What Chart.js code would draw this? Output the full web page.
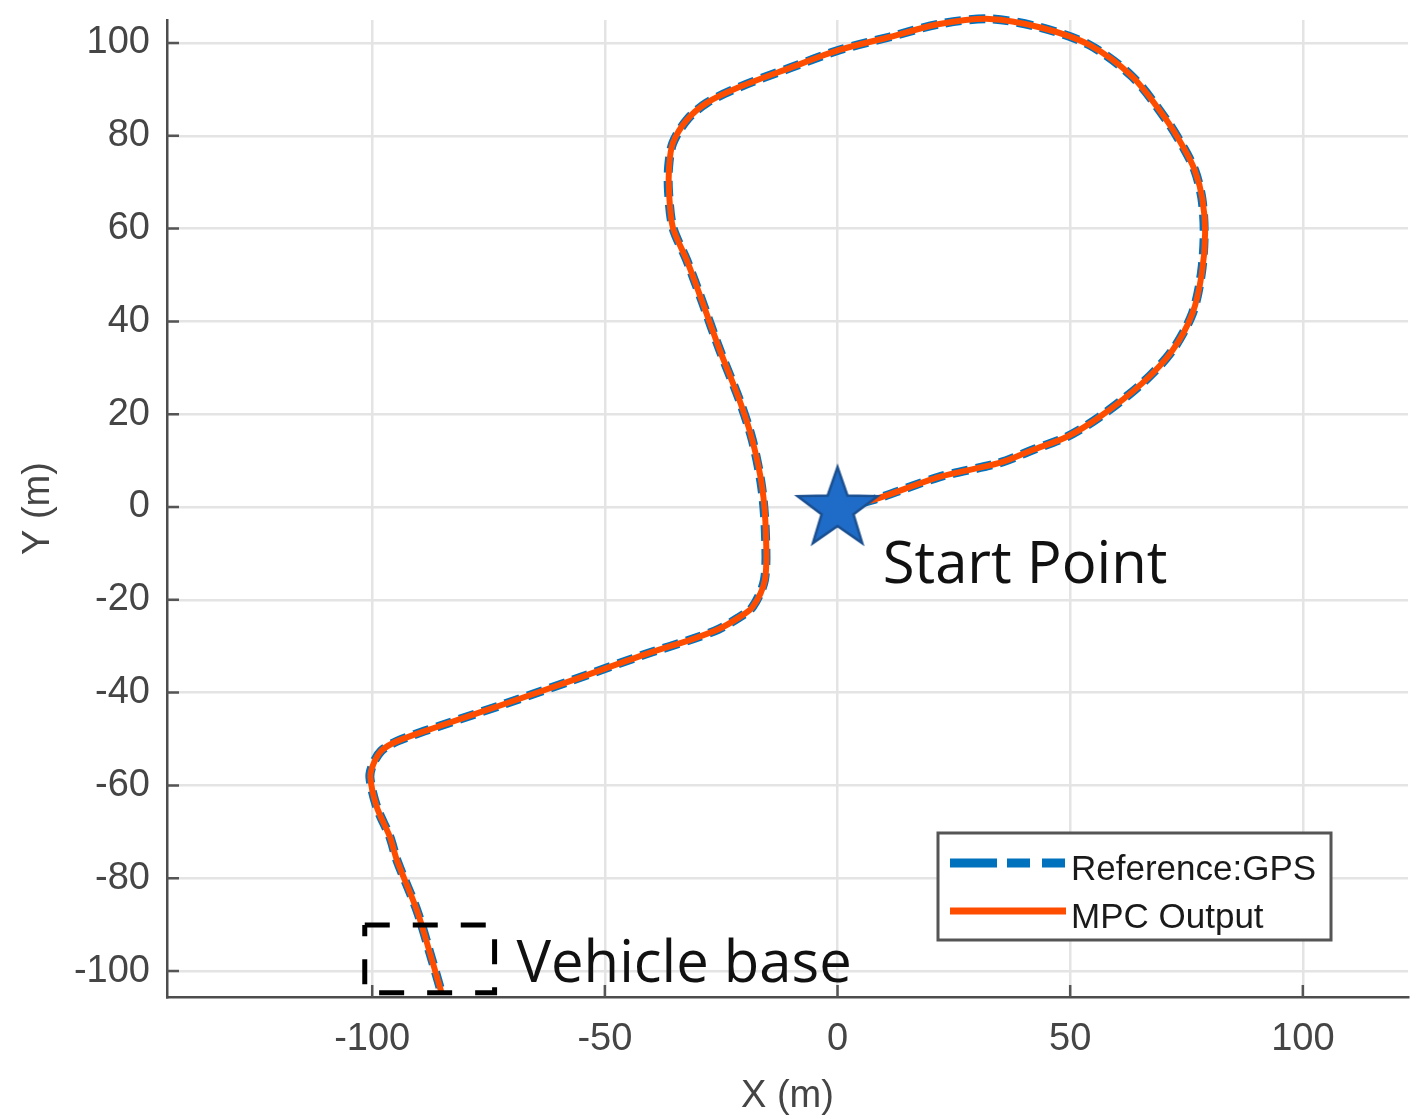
<!DOCTYPE html>
<html>
<head>
<meta charset="utf-8">
<script src="https://cdn.jsdelivr.net/npm/chart.js@4.4.1/dist/chart.umd.min.js"></script>
<style>
  html, body { margin: 0; padding: 0; background: #fff; }
  canvas { display: block; }
</style>
</head>
<body>
<canvas id="pathChart" width="1425" height="1119"></canvas>
<script>
// reference path (GPS), metres
const refX = [0, 7.5, 21.9, 34.8, 41.9, 49.2, 56.3, 65.5, 72.0, 76.3, 78.2, 78.8, 78.3, 76.8, 74.5, 70.7, 63.4, 54.1, 43.4, 32.7, 21.9, 11.2, 0.4, -10.3, -21.1, -28.1, -32.4, -35.4, -36.3, -36.3, -35.4, -32.4, -29.2, -25.3, -21.1, -18.3, -16.3, -15.5, -15.7, -18.3, -21.5, -25.5, -31.0, -41.5, -56.9, -71.1, -85.5, -94.5, -98.0, -99.8, -100.5, -99.0, -96.2, -94.7, -90.4, -87.6, -85.1];
const refY = [0, 1.5, 6.5, 9.5, 12.3, 15.1, 19.4, 26.7, 33.8, 41.8, 50.4, 59.1, 66.5, 72.5, 77.2, 83.4, 92.7, 99.6, 103.4, 105.2, 104.1, 101.3, 98.5, 94.6, 90.5, 87.1, 83.4, 78.4, 73.3, 67.7, 60.3, 53.2, 44.6, 33.8, 23.1, 14.4, 4.3, -5.6, -15.7, -21.6, -24.0, -26.3, -28.4, -31.8, -37.3, -42.3, -47.2, -50.4, -52.5, -55.3, -58.2, -64.7, -71.1, -76.1, -86.9, -96.1, -104.7];

// MPC output follows the reference almost exactly
const mpcX = [0, 7.5, 21.9, 34.8, 41.9, 49.2, 56.3, 65.5, 72.0, 76.3, 78.3, 79.0, 78.4, 76.8, 74.5, 70.7, 63.4, 54.1, 43.4, 32.7, 21.9, 11.2, 0.4, -10.3, -21.1, -28.1, -32.4, -35.4, -36.2, -36.2, -35.4, -32.4, -29.2, -25.3, -21.1, -18.3, -16.2, -15.4, -15.6, -18.3, -21.5, -25.5, -31.0, -41.5, -56.9, -71.1, -85.5, -94.5, -98.0, -99.7, -100.4, -99.0, -96.2, -94.7, -90.4, -87.6, -85.1];
const mpcY = [0, 1.5, 6.5, 9.5, 12.3, 15.1, 19.4, 26.7, 33.8, 41.8, 50.4, 59.1, 66.5, 72.5, 77.2, 83.4, 92.7, 99.6, 103.4, 105.2, 104.1, 101.3, 98.5, 94.6, 90.5, 87.1, 83.4, 78.4, 73.3, 67.7, 60.3, 53.2, 44.6, 33.8, 23.1, 14.4, 4.3, -5.6, -15.7, -21.6, -24.0, -26.3, -28.4, -31.8, -37.3, -42.3, -47.2, -50.4, -52.5, -55.3, -58.2, -64.7, -71.1, -76.1, -86.9, -96.1, -104.7];

const startPoint = { x: 0, y: 0 };
// vehicle base rectangle corners
const baseX = [-101.6, -73.7, -73.7, -101.6, -101.6];
const baseY = [-90.1, -90.1, -104.7, -104.7, -90.1];

const seriesNames = ["Reference:GPS", "MPC Output"];
const xTicks = [-100, -50, 0, 50, 100];
const yTicks = [-100, -80, -60, -40, -20, 0, 20, 40, 60, 80, 100];

const toPts = (xs, ys) => xs.map((x, i) => ({ x: x, y: ys[i] }));

const blue = "#0072BD";
const orange = "#FF4D00";
const axisFont = { family: "'Liberation Sans', Arial, sans-serif", size: 38 };

// filled star marker
function makeStar(r) {
  const c = document.createElement("canvas");
  c.width = c.height = r * 2 + 6;
  const g = c.getContext("2d");
  const cx = c.width / 2, cy = c.height / 2 + r * 0.05;
  g.beginPath();
  for (let i = 0; i < 10; i++) {
    const rad = i % 2 === 0 ? r : r * 0.4;
    const a = -Math.PI / 2 + i * Math.PI / 5;
    const px = cx + rad * Math.cos(a), py = cy + rad * Math.sin(a);
    i === 0 ? g.moveTo(px, py) : g.lineTo(px, py);
  }
  g.closePath();
  g.fillStyle = "#1f6cc8";
  g.fill();
  g.lineWidth = 2.5;
  g.strokeStyle = "#1a4f90";
  g.stroke();
  return c;
}

const legendPlugin = {
  id: "boxLegend",
  afterDraw(chart) {
    const { ctx, chartArea: a } = chart;
    const x0 = a.right - 470, y0 = a.bottom - 164, w = 393, h = 107;
    ctx.save();
    ctx.fillStyle = "#fff";
    ctx.fillRect(x0, y0, w, h);
    ctx.strokeStyle = "#555";
    ctx.lineWidth = 3;
    ctx.strokeRect(x0, y0, w, h);
    const items = [
      { label: seriesNames[0], color: blue, dash: [47, 10, 23, 12, 23], width: 9 },
      { label: seriesNames[1], color: orange, dash: [], width: 7 },
    ];
    items.forEach((it, i) => {
      const y = y0 + 30 + i * 48;
      ctx.setLineDash(it.dash);
      ctx.lineWidth = it.width;
      ctx.strokeStyle = it.color;
      ctx.beginPath();
      ctx.moveTo(x0 + 12, y);
      ctx.lineTo(x0 + 128, y);
      ctx.stroke();
      ctx.setLineDash([]);
      ctx.fillStyle = "#1a1a1a";
      ctx.font = "35px 'Liberation Sans', Arial, sans-serif";
      ctx.textBaseline = "alphabetic";
      ctx.fillText(it.label, x0 + 133, y + 17);
    });
    ctx.restore();
  },
};

// MATLAB-style inward tick marks on left and bottom axes
const innerTicks = {
  id: "innerTicks",
  afterDatasetsDraw(chart) {
    const { ctx, chartArea: a, scales } = chart;
    ctx.save();
    ctx.strokeStyle = "#555";
    ctx.lineWidth = 2.5;
    ctx.beginPath();
    xTicks.forEach(v => {
      const px = scales.x.getPixelForValue(v);
      ctx.moveTo(px, a.bottom);
      ctx.lineTo(px, a.bottom - 12);
    });
    yTicks.forEach(v => {
      const py = scales.y.getPixelForValue(v);
      ctx.moveTo(a.left, py);
      ctx.lineTo(a.left + 12, py);
    });
    ctx.stroke();
    ctx.restore();
  },
};

const notes = {
  id: "notes",
  afterDraw(chart) {
    const { ctx, scales } = chart;
    ctx.save();
    ctx.fillStyle = "#111";
    ctx.font = "58px 'Open Sans', 'Noto Sans', sans-serif";
    ctx.textBaseline = "alphabetic";
    ctx.fillText("Start Point", scales.x.getPixelForValue(9.7), scales.y.getPixelForValue(-16.4));
    ctx.fillText("Vehicle base", scales.x.getPixelForValue(-69), scales.y.getPixelForValue(-102.4));
    ctx.restore();
  },
};

const ctx = document.getElementById("pathChart").getContext("2d");

new Chart(ctx, {
  type: "scatter",
  data: {
    datasets: [
      {
        label: "Start",
        data: [startPoint],
        pointStyle: makeStar(42),
        pointRadius: 42,
        order: 0,
      },
      {
        label: "Vehicle base",
        data: toPts(baseX, baseY),
        showLine: true,
        borderColor: "#000",
        borderWidth: 5,
        borderDash: [25, 23],
        borderCapStyle: "butt",
        borderJoinStyle: "miter",
        pointRadius: 0,
        tension: 0,
        order: 1,
      },
      {
        label: seriesNames[1],
        data: toPts(mpcX, mpcY),
        showLine: true,
        borderColor: orange,
        borderWidth: 6,
        pointRadius: 0,
        tension: 0.3,
        clip: 10,
        order: 2,
      },
      {
        label: seriesNames[0],
        data: toPts(refX, refY),
        showLine: true,
        borderColor: blue,
        borderWidth: 9,
        borderDash: [16, 8],
        pointRadius: 0,
        tension: 0.3,
        clip: 10,
        order: 3,
      },
    ],
  },
  options: {
    responsive: false,
    animation: false,
    devicePixelRatio: 1,
    layout: { autoPadding: false, padding: { top: 20, right: 17, left: 0, bottom: 0 } },
    plugins: {
      legend: { display: false },
      tooltip: { enabled: false },
    },
    scales: {
      x: {
        type: "linear",
        min: -144.1,
        max: 122.6,
        afterBuildTicks: s => { s.ticks = xTicks.map(v => ({ value: v })); },
        afterFit: s => { s.height = 122; s.paddingLeft = 0; s.paddingRight = 0; },
        ticks: { font: axisFont, color: "#454545", padding: 20 },
        grid: { color: "#e4e4e4", lineWidth: 2.5, drawTicks: false },
        border: { color: "#4d4d4d", width: 2.5 },
        title: { display: true, text: "X (m)", font: axisFont, color: "#454545", padding: { top: 0, bottom: 0 } },
      },
      y: {
        type: "linear",
        min: -105.6,
        max: 104.96,
        afterBuildTicks: s => { s.ticks = yTicks.map(v => ({ value: v })); },
        afterFit: s => { s.width = 167; s.paddingTop = 0; s.paddingBottom = 0; },
        ticks: { font: axisFont, color: "#454545", padding: 17 },
        grid: { color: "#e4e4e4", lineWidth: 2.5, drawTicks: false },
        border: { color: "#4d4d4d", width: 2.5 },
        title: { display: true, text: "Y (m)", font: axisFont, color: "#454545", padding: { top: 16, bottom: 0 } },
      },
    },
  },
  plugins: [innerTicks, notes, legendPlugin],
});
</script>
</body>
</html>
